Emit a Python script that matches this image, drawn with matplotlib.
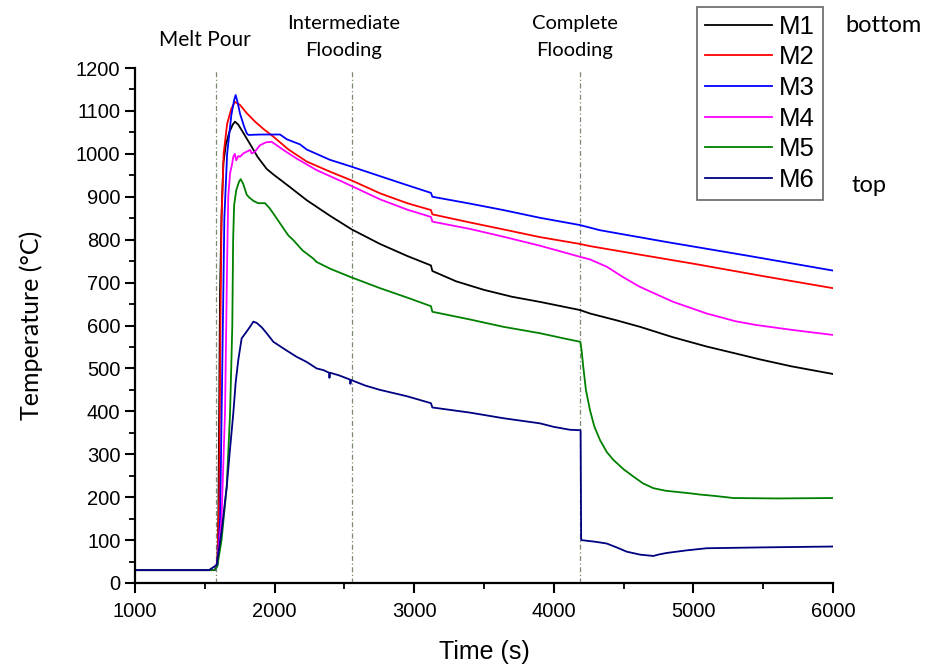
import matplotlib
matplotlib.use("Agg")
import matplotlib.pyplot as plt
from matplotlib.ticker import MultipleLocator

# ---------------- data ----------------
m1_t = [1000, 1570, 1590, 1597, 1603, 1609, 1620, 1633, 1650, 1675, 1700, 1716, 1740, 1770, 1820, 1880,
        1943, 1991, 2100, 2230, 2400, 2552, 2755, 2950, 3120, 3130, 3300, 3500, 3700, 3901, 4188, 4259,
        4450, 4617, 4850, 5095, 5300, 5477, 5700, 6000]
m1_T = [30, 30, 45, 150, 400, 676, 860, 978, 1020, 1050, 1068, 1075, 1068, 1052, 1025, 992,
        965, 952, 925, 892, 855, 824, 790, 762, 740, 727, 703, 683, 667, 655, 636, 628,
        612, 597, 573, 551, 535, 521, 505, 487]

m2_t = [1000, 1570, 1590, 1603, 1612, 1620, 1635, 1660, 1690, 1716, 1752, 1800, 1860, 1920, 1991, 2100,
        2230, 2400, 2552, 2755, 2950, 3120, 3130, 3400, 3638, 3900, 4188, 4259, 4600, 5000, 5500, 6000]
m2_T = [30, 30, 45, 200, 600, 850, 1000, 1070, 1105, 1121, 1114, 1095, 1075, 1058, 1040, 1010,
        982, 958, 938, 908, 885, 869, 859, 840, 824, 806, 790, 785, 766, 744, 715, 687]

m3_t = [1000, 1570, 1590, 1610, 1625, 1640, 1660, 1690, 1710, 1721, 1735, 1752, 1780, 1800, 1812, 1900,
        1991, 2039, 2087, 2182, 2230, 2397, 2552, 2755, 2950, 3120, 3130, 3400, 3638, 3900, 4188, 4331,
        4800, 5400, 6000]
m3_T = [30, 30, 40, 150, 500, 850, 1000, 1090, 1125, 1137, 1120, 1094, 1065, 1048, 1044, 1045,
        1045, 1045, 1034, 1022, 1010, 986, 970, 948, 927, 909, 900, 884, 869, 851, 834, 822,
        795, 762, 728]

m4_t = [1000, 1570, 1590, 1620, 1645, 1660, 1668, 1681, 1695, 1704, 1715, 1725, 1740, 1752, 1776, 1800,
        1824, 1836, 1859, 1895, 1940, 1979, 2015, 2063, 2158, 2301, 2397, 2552, 2755, 2950, 3120, 3130,
        3400, 3638, 3900, 4100, 4188, 4259, 4379, 4500, 4617, 4856, 5095, 5300, 5453, 5700, 6000]
m4_T = [30, 30, 50, 150, 400, 750, 900, 955, 975, 993, 1000, 985, 995, 993, 1001, 1005,
        1009, 1001, 1005, 1020, 1027, 1028, 1020, 1009, 989, 962, 948, 925, 894, 870, 853, 842,
        825, 807, 786, 768, 760, 754, 737, 712, 690, 655, 628, 610, 601, 590, 578]

m5_t = [1000, 1570, 1590, 1620, 1657, 1681, 1697, 1703, 1710, 1725, 1745, 1757, 1775, 1800, 1819, 1850,
        1883, 1931, 1960, 1991, 2039, 2098, 2134, 2200, 2277, 2301, 2400, 2552, 2755, 2950, 3120, 3130,
        3400, 3638, 3901, 4100, 4190, 4198, 4211, 4230, 4259, 4290, 4331, 4380, 4426, 4500, 4570, 4640,
        4713, 4800, 4976, 5050, 5150, 5286, 5600, 6000]
m5_T = [30, 30, 40, 100, 224, 396, 600, 800, 880, 915, 935, 941, 930, 905, 898, 890,
        885, 885, 875, 861, 838, 810, 799, 775, 756, 748, 732, 712, 687, 665, 645, 632,
        614, 597, 582, 568, 562, 545, 504, 450, 403, 365, 333, 305, 287, 265, 248, 232,
        221, 215, 209, 206, 203, 198, 197, 198]

m6_t = [1000, 1530, 1585, 1620, 1657, 1680, 1704, 1722, 1740, 1764, 1800, 1830, 1848, 1872, 1910, 1943,
        1991, 2080, 2158, 2230, 2301, 2350, 2390, 2393, 2397, 2460, 2540, 2543, 2548, 2650, 2755, 2950,
        3120, 3130, 3400, 3638, 3901, 3997, 4116, 4192, 4196, 4300, 4379, 4450, 4522, 4620, 4713, 4760,
        4809, 4950, 5095, 5500, 6000]
m6_T = [30, 30, 42, 120, 224, 310, 395, 470, 520, 570, 586, 600, 609, 606, 595, 582,
        562, 543, 527, 515, 500, 496, 490, 478, 490, 484, 474, 464, 473, 460, 450, 435,
        419, 409, 397, 384, 372, 364, 357, 356, 100, 96, 92, 83, 73, 66, 63, 67,
        70, 76, 81, 83, 85]

series_labels = ["M1", "M2", "M3", "M4", "M5", "M6"]
series_colors = ["#000000", "#ff0000", "#0000ff", "#ff00ff", "#008000", "#000080"]
event_times = [1580, 2552, 4188]
event_labels = ["Melt Pour", "Intermediate\nFlooding", "Complete\nFlooding"]

# ---------------- plot ----------------
fig = plt.figure(figsize=(9.36, 6.65), dpi=100)
ax = fig.add_axes([135 / 936, 1 - 583 / 665, (833 - 135) / 936, (583 - 68) / 665])

all_t = [m1_t, m2_t, m3_t, m4_t, m5_t, m6_t]
all_T = [m1_T, m2_T, m3_T, m4_T, m5_T, m6_T]
lines = []
for t, T, lab, c in zip(all_t, all_T, series_labels, series_colors):
    ln, = ax.plot(t, T, color=c, lw=1.3, label=lab)
    lines.append(ln)

for et in event_times:
    ax.axvline(et, ymin=0, ymax=1195 / 1200, color="#7d8a72", lw=0.9,
               linestyle=(0, (4, 2, 1, 2)), zorder=0)

ax.set_xlim(1000, 6000)
ax.set_ylim(0, 1200)
ax.xaxis.set_major_locator(MultipleLocator(1000))
ax.xaxis.set_minor_locator(MultipleLocator(500))
ax.yaxis.set_major_locator(MultipleLocator(100))
ax.yaxis.set_minor_locator(MultipleLocator(50))
for s in ["top", "right"]:
    ax.spines[s].set_visible(False)
for s in ["left", "bottom"]:
    ax.spines[s].set_linewidth(1.6)
ax.tick_params(which="major", direction="out", length=7, width=1.5, labelsize=14.5)
ax.tick_params(axis="x", which="major", pad=7)
ax.tick_params(which="minor", direction="out", length=4, width=1.3)
for lbl in ax.get_xticklabels() + ax.get_yticklabels():
    lbl.set_fontfamily("Liberation Sans")

ax.set_xlabel("Time (s)", fontsize=18, family="Liberation Sans", labelpad=13)
ax.set_ylabel("Temperature (°C)", fontsize=18, family="Lato", labelpad=24)

# event annotations
fig.text(205 / 936, 1 - 40 / 665, event_labels[0], ha="center", va="center", fontsize=15, family="Lato")
fig.text(344 / 936, 1 - 37 / 665, event_labels[1], ha="center", va="center", fontsize=14.5,
         family="Lato", linespacing=1.7)
fig.text(575 / 936, 1 - 37 / 665, event_labels[2], ha="center", va="center", fontsize=14.5,
         family="Lato", linespacing=1.7)

leg = fig.legend(handles=lines, loc="upper left", bbox_to_anchor=(697 / 936, 1 - 7 / 665),
                 bbox_transform=fig.transFigure, fontsize=18.5, frameon=True, fancybox=False,
                 edgecolor="#666666", framealpha=1, labelspacing=0.26, handlelength=2.6,
                 handletextpad=0.3, borderpad=0.3, borderaxespad=0)
leg.get_frame().set_linewidth(1.2)
for txt in leg.get_texts():
    txt.set_fontfamily("Liberation Sans")

fig.text(845 / 936, 1 - 25 / 665, "bottom", ha="left", va="center", fontsize=17, family="Lato")
fig.text(851 / 936, 1 - 185 / 665, "top", ha="left", va="center", fontsize=17, family="Lato")

fig.savefig("out.png", dpi=100)
